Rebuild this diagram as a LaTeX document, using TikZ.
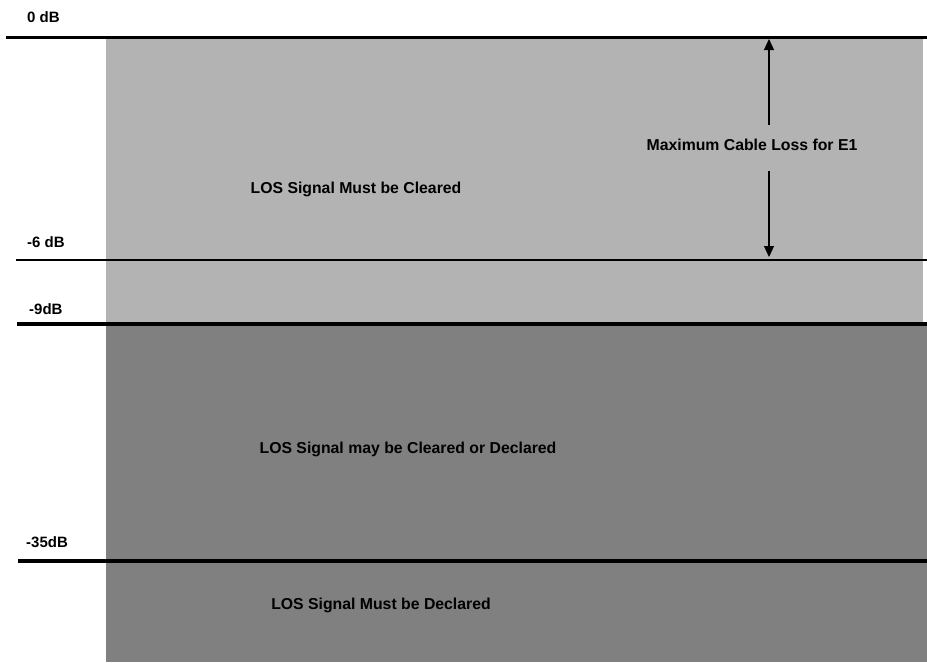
\documentclass[tikz,border=0pt]{standalone}
\usepackage{fontspec}
\setmainfont{Liberation Sans}
\usetikzlibrary{arrows.meta}
\definecolor{lightband}{HTML}{B3B3B3}
\definecolor{darkband}{HTML}{808080}
\tikzset{
  lbl/.style={font=\fontsize{15}{17}\selectfont\bfseries, inner sep=0pt, anchor=west},
  txt/.style={font=\fontsize{15.8}{18}\selectfont\bfseries, inner sep=0pt},
  thickrule/.style={line width=3.2pt, black},
  thinrule/.style={line width=1.2pt, black},
  dim/.style={line width=1.1pt, -{Triangle[length=11pt,width=10pt]}}
}
\begin{document}
\begin{tikzpicture}[x=1pt,y=-1pt]
\useasboundingbox (0,0) rectangle (927,662);
\fill[white] (0,0) rectangle (927,662);
% bands
\fill[lightband] (106,37) rectangle (923,324);
\fill[darkband] (106,324) rectangle (927,662);
% rules
\draw[thickrule] (6,37.5) -- (927,37.5);
\draw[thinrule] (16,260) -- (927,260);
\draw[thickrule] (17,324) -- (927,324);
\draw[thickrule] (18,561) -- (927,561);
% level labels
\node[lbl] (l0) at (27,17) {0 dB};
\node[lbl] (l6) at (27,242) {-6 dB};
\node[lbl] (l9) at (29,309) {-9dB};
\node[lbl] (l35) at (26,542) {-35dB};
% region texts
\node[txt] (must) at (356,189) {LOS Signal Must be Cleared};
\node[txt] (may) at (408,449) {LOS Signal may be Cleared or Declared};
\node[txt] (decl) at (381,605) {LOS Signal Must be Declared};
% dimension arrow
\node[txt] (maxloss) at (752,145) {Maximum Cable Loss for E1};
\coordinate (atop) at (769,125);
\coordinate (ttop) at (769,39);
\coordinate (abot) at (769,171);
\coordinate (tbot) at (769,257);
\draw[dim] (atop) -- (ttop);
\draw[dim] (abot) -- (tbot);
\end{tikzpicture}
\end{document}
